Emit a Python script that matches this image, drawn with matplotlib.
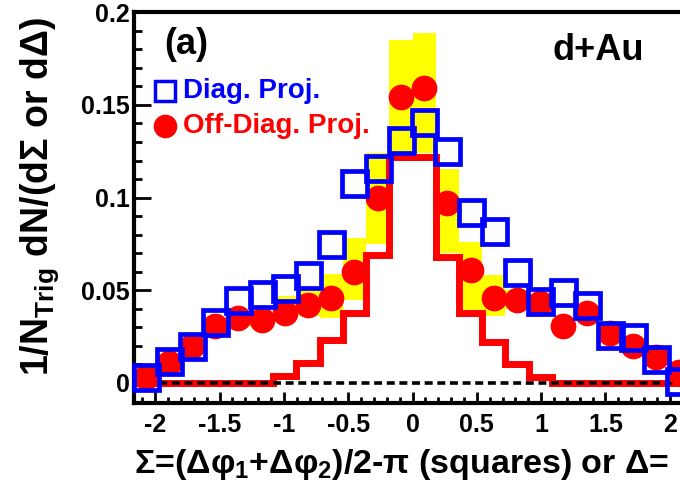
import numpy as np
import matplotlib
matplotlib.use('Agg')
import matplotlib.pyplot as plt
from matplotlib.ticker import MultipleLocator, FuncFormatter

plt.rcParams['font.family'] = ['Liberation Sans', 'DejaVu Sans']
plt.rcParams['font.weight'] = 'bold'
plt.rcParams['mathtext.fontset'] = 'custom'
plt.rcParams['mathtext.rm'] = 'Liberation Sans:bold'
plt.rcParams['mathtext.it'] = 'Liberation Sans:bold'
plt.rcParams['mathtext.bf'] = 'Liberation Sans:bold'

# binning of the projection (24 bins across the visible range)
n_bins = 24
x_lo, x_hi = -2.166, 2.166

# diagonal projection (open blue squares)
diag = [0.003, 0.012, 0.020, 0.033, 0.045, 0.048, 0.051, 0.058, 0.075, 0.108, 0.116, 0.131,
        0.141, 0.125, 0.092, 0.082, 0.060, 0.044, 0.049, 0.042, 0.026, 0.025, 0.013, 0.001]
# off-diagonal projection (filled red circles)
offdiag = [0.003, 0.011, 0.020, 0.031, 0.035, 0.034, 0.038, 0.042, 0.046, 0.060, 0.100, 0.154,
           0.159, 0.097, 0.061, 0.046, 0.045, 0.043, 0.031, 0.038, 0.027, 0.020, 0.014, 0.006]
# red step histogram
red_hist = [0.0, 0.0, 0.0, 0.0, 0.0, 0.0, 0.004, 0.011, 0.023, 0.038, 0.069, 0.122,
            0.122, 0.068, 0.038, 0.022, 0.010, 0.003, 0.0, 0.0, 0.0, 0.0, 0.0, 0.0]
# yellow systematic band
band_lo = [0.000, 0.007, 0.016, 0.027, 0.031, 0.030, 0.033, 0.036, 0.035, 0.0445, 0.075, 0.123,
           0.124, 0.070, 0.039, 0.036, 0.040, 0.038, 0.027, 0.034, 0.023, 0.016, 0.010, 0.002]
band_hi = [0.005, 0.015, 0.024, 0.035, 0.039, 0.038, 0.047, 0.050, 0.059, 0.078, 0.124, 0.185,
           0.189, 0.1156, 0.076, 0.058, 0.050, 0.048, 0.035, 0.042, 0.031, 0.024, 0.018, 0.010]

edges = np.linspace(x_lo, x_hi, n_bins + 1)
centers = 0.5 * (edges[:-1] + edges[1:])
width = edges[1] - edges[0]

W, H = 680, 493
fig = plt.figure(figsize=(W / 100, H / 100), dpi=100)
fig.patch.set_facecolor('white')


def fx(px):
    return px / W


def fy(py):
    return 1 - py / H


# axes run past the right edge of the picture, like the cropped original
ax = fig.add_axes([fx(134), fy(403), fx(691) - fx(134), fy(12) - fy(403)])
ax.set_xlim(x_lo, x_hi)
ax.set_ylim(-0.0108, 0.2001)

ax.bar(centers, np.array(band_hi) - np.array(band_lo), bottom=band_lo, width=width,
       color='#ffff00', linewidth=0, zorder=1)
ax.stairs(red_hist, edges, color='red', linewidth=5, zorder=2)
ax.axhline(0, color='black', linewidth=2.6, linestyle=(0, (2.2, 1.3)), zorder=3)
ax.plot(centers, offdiag, 'o', color='red', markersize=18.5, markeredgewidth=0,
        zorder=4, clip_on=False)
ax.plot(centers, diag, 's', markerfacecolor='none', markeredgecolor='blue',
        markersize=18, markeredgewidth=3.4, zorder=5, clip_on=False)

for side in ['left', 'bottom', 'top', 'right']:
    ax.spines[side].set_linewidth(3)

fmt = FuncFormatter(lambda v, pos: f'{v:g}')
ax.xaxis.set_major_locator(MultipleLocator(0.5))
ax.xaxis.set_minor_locator(MultipleLocator(0.1))
ax.yaxis.set_major_locator(MultipleLocator(0.05))
ax.yaxis.set_minor_locator(MultipleLocator(0.01))
ax.xaxis.set_major_formatter(fmt)
ax.yaxis.set_major_formatter(fmt)
ax.tick_params(which='both', direction='in', top=False, right=False, width=2, labelsize=18)
ax.tick_params(axis='y', which='major', length=12, pad=3)
ax.tick_params(axis='y', which='minor', length=6)
ax.tick_params(axis='x', which='major', length=8, pad=7)
ax.tick_params(axis='x', which='minor', length=4)

# panel labels
fig.text(fx(186), fy(45), '(a)', fontsize=26, ha='center', va='center')
fig.text(fx(598), fy(50), 'd+Au', fontsize=26, ha='center', va='center')

# legend
ax.plot([fx(165)], [fy(91)], transform=fig.transFigure, marker='s', markerfacecolor='none',
        markeredgecolor='blue', markersize=14, markeredgewidth=2.5, clip_on=False)
fig.text(fx(183), fy(91), 'Diag. Proj.', color='blue', fontsize=20, va='center')
ax.plot([fx(165)], [fy(126)], transform=fig.transFigure, marker='o', color='red',
        markersize=17, markeredgewidth=0, clip_on=False)
fig.text(fx(183), fy(126), 'Off-Diag. Proj.', color='red', fontsize=20, va='center')

# axis titles
fig.text(fx(40), fy(197), '1/N$_{\\mathrm{Trig}}$ dN/(dΣ or dΔ)', rotation=90,
         fontsize=27, ha='center', va='center')
fig.text(fx(134), fy(464), 'Σ=(Δφ$_1$+Δφ$_2$)/2-π (squares) or Δ=',
         fontsize=24.5, ha='left', va='center')

fig.savefig('out.png', dpi=100)
